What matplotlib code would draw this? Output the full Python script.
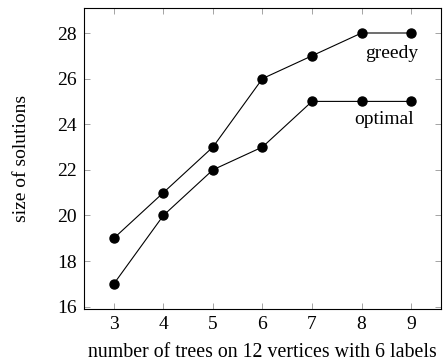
import matplotlib
matplotlib.use("Agg")
import matplotlib.pyplot as plt

plt.rcParams['font.family'] = ['Liberation Serif', 'DejaVu Serif']
plt.rcParams['mathtext.fontset'] = 'stix'

trees = [3, 4, 5, 6, 7, 8, 9]
greedy = [19, 21, 23, 26, 27, 28, 28]
optimal = [17, 20, 22, 23, 25, 25, 25]
yticks = [16, 18, 20, 22, 24, 26, 28]

fig = plt.figure(figsize=(4.43, 3.6), dpi=100)
ax = fig.add_axes([0.19, 0.142, 0.805, 0.836])

ax.plot(trees, greedy, color='black', lw=0.8, marker='o', ms=6.5)
ax.plot(trees, optimal, color='black', lw=0.8, marker='o', ms=6.5)

fs = 14
ax.text(8.6, 27.08, 'greedy', ha='center', va='center', fontsize=fs)
ax.text(8.46, 24.19, 'optimal', ha='center', va='center', fontsize=fs)

ax.set_xlim(2.4, 9.6)
ax.set_ylim(15.9, 29.1)
ax.set_xticks(trees)
ax.set_yticks(yticks)
ax.tick_params(direction='in', top=True, right=True, length=4, width=0.5,
               color='#808080', labelsize=fs, pad=5)
for s in ax.spines.values():
    s.set_linewidth(0.8)

ax.set_xlabel('number of trees on 12 vertices with 6 labels', fontsize=14.3, labelpad=7)
ax.set_ylabel('size of solutions', fontsize=fs, labelpad=20)

fig.savefig('out.png', dpi=100)
